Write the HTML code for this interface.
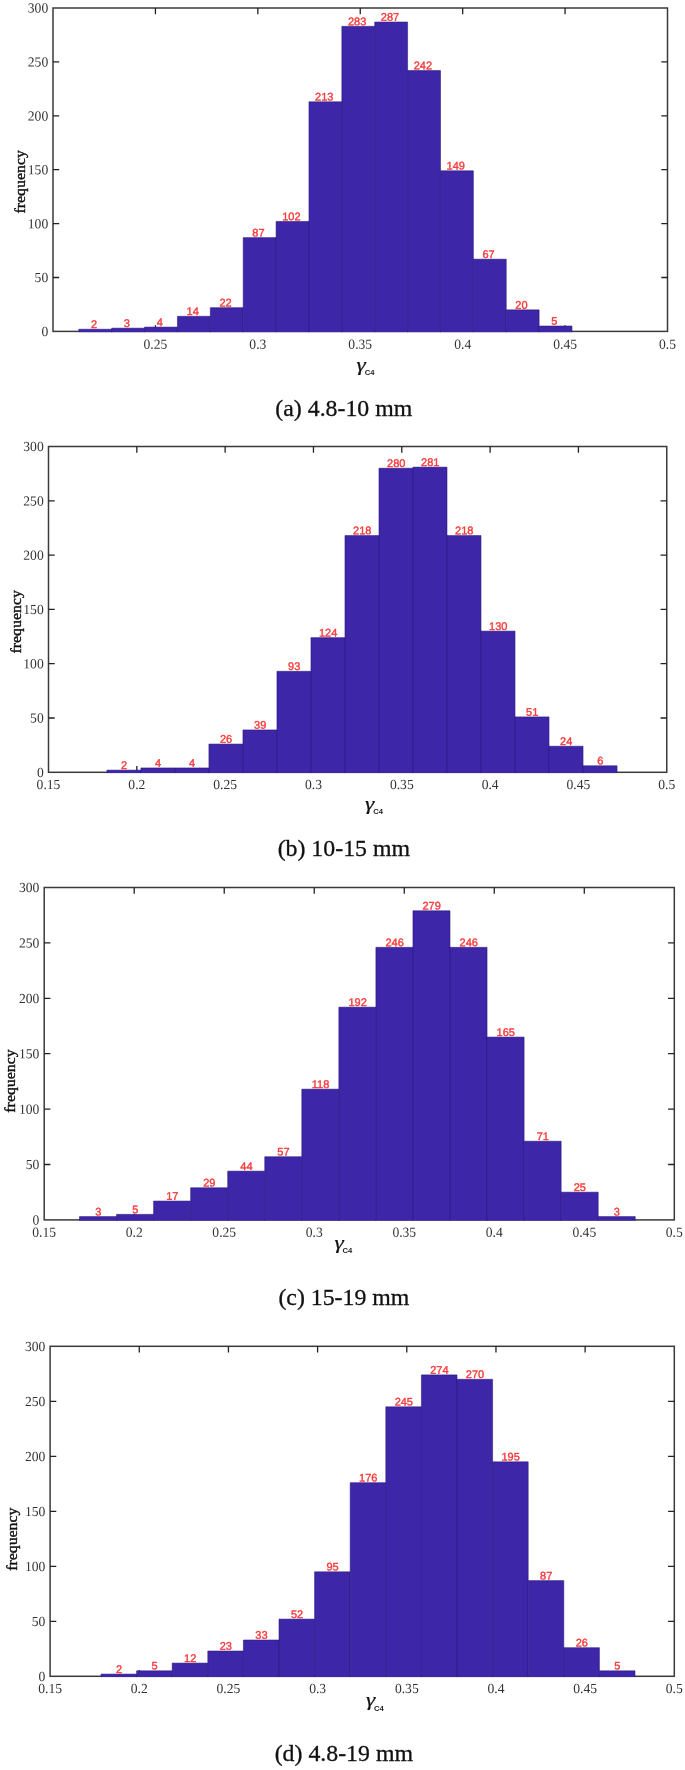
<!DOCTYPE html>
<html lang="en"><head><meta charset="utf-8"><title>Histograms</title>
<style>
html,body{margin:0;padding:0;background:#fff;}
body{width:685px;height:1770px;overflow:hidden;}
svg{display:block;filter:blur(0.35px);}
.tk{font-family:"Liberation Serif",serif;font-size:13.8px;fill:#333;}
.yl{font-family:"Liberation Serif",serif;font-size:15.1px;fill:#111;stroke:#111;stroke-width:0.4px;}
.cap{font-family:"Liberation Serif",serif;font-size:22.7px;fill:#111;stroke:#111;stroke-width:0.3px;}
.v{font-family:"Liberation Sans",sans-serif;font-size:11px;fill:#f83a3a;stroke:#f83a3a;stroke-width:0.4px;}
.g{font-family:"Liberation Serif",serif;font-style:italic;font-size:18px;fill:#111;stroke:#111;stroke-width:0.2px;}
.gs{font-family:"Liberation Sans",sans-serif;font-size:7.6px;font-weight:700;fill:#222;}
</style></head><body>
<svg width="685" height="1770" viewBox="0 0 685 1770">
<g><rect x="53.00" y="8.00" width="614.50" height="323.40" fill="none" stroke="#3a3a3a" stroke-width="1.5"/><path d="M155.42 331.40v-6.20M155.42 8.00v6.20M257.83 331.40v-6.20M257.83 8.00v6.20M360.25 331.40v-6.20M360.25 8.00v6.20M462.67 331.40v-6.20M462.67 8.00v6.20M565.08 331.40v-6.20M565.08 8.00v6.20M53.00 277.50h6.20M667.50 277.50h-6.20M53.00 223.60h6.20M667.50 223.60h-6.20M53.00 169.70h6.20M667.50 169.70h-6.20M53.00 115.80h6.20M667.50 115.80h-6.20M53.00 61.90h6.20M667.50 61.90h-6.20" stroke="#222" stroke-width="1.3" fill="none"/><rect x="78.80" y="329.24" width="32.88" height="2.91" fill="#3e26a8"/><path d="M78.80 332.15V329.24h32.88V332.15" fill="none" stroke="#28167a" stroke-width="0.55"/><rect x="111.68" y="328.17" width="32.88" height="3.98" fill="#3e26a8"/><path d="M111.68 332.15V328.17h32.88V332.15" fill="none" stroke="#28167a" stroke-width="0.55"/><rect x="144.56" y="327.09" width="32.88" height="5.06" fill="#3e26a8"/><path d="M144.56 332.15V327.09h32.88V332.15" fill="none" stroke="#28167a" stroke-width="0.55"/><rect x="177.44" y="316.31" width="32.88" height="15.84" fill="#3e26a8"/><path d="M177.44 332.15V316.31h32.88V332.15" fill="none" stroke="#28167a" stroke-width="0.55"/><rect x="210.32" y="307.68" width="32.88" height="24.47" fill="#3e26a8"/><path d="M210.32 332.15V307.68h32.88V332.15" fill="none" stroke="#28167a" stroke-width="0.55"/><rect x="243.20" y="237.61" width="32.88" height="94.54" fill="#3e26a8"/><path d="M243.20 332.15V237.61h32.88V332.15" fill="none" stroke="#28167a" stroke-width="0.55"/><rect x="276.08" y="221.44" width="32.88" height="110.71" fill="#3e26a8"/><path d="M276.08 332.15V221.44h32.88V332.15" fill="none" stroke="#28167a" stroke-width="0.55"/><rect x="308.96" y="101.79" width="32.88" height="230.36" fill="#3e26a8"/><path d="M308.96 332.15V101.79h32.88V332.15" fill="none" stroke="#28167a" stroke-width="0.55"/><rect x="341.84" y="26.33" width="32.88" height="305.82" fill="#3e26a8"/><path d="M341.84 332.15V26.33h32.88V332.15" fill="none" stroke="#28167a" stroke-width="0.55"/><rect x="374.72" y="22.01" width="32.88" height="310.14" fill="#3e26a8"/><path d="M374.72 332.15V22.01h32.88V332.15" fill="none" stroke="#28167a" stroke-width="0.55"/><rect x="407.60" y="70.52" width="32.88" height="261.63" fill="#3e26a8"/><path d="M407.60 332.15V70.52h32.88V332.15" fill="none" stroke="#28167a" stroke-width="0.55"/><rect x="440.48" y="170.78" width="32.88" height="161.37" fill="#3e26a8"/><path d="M440.48 332.15V170.78h32.88V332.15" fill="none" stroke="#28167a" stroke-width="0.55"/><rect x="473.36" y="259.17" width="32.88" height="72.98" fill="#3e26a8"/><path d="M473.36 332.15V259.17h32.88V332.15" fill="none" stroke="#28167a" stroke-width="0.55"/><rect x="506.24" y="309.84" width="32.88" height="22.31" fill="#3e26a8"/><path d="M506.24 332.15V309.84h32.88V332.15" fill="none" stroke="#28167a" stroke-width="0.55"/><rect x="539.12" y="326.01" width="32.88" height="6.14" fill="#3e26a8"/><path d="M539.12 332.15V326.01h32.88V332.15" fill="none" stroke="#28167a" stroke-width="0.55"/><text class="tk" text-anchor="end" transform="translate(48.20 336.00) rotate(0.03) scale(0.985 1)">0</text><text class="tk" text-anchor="end" transform="translate(48.20 282.10) rotate(0.03) scale(0.985 1)">50</text><text class="tk" text-anchor="end" transform="translate(48.20 228.20) rotate(0.03) scale(0.985 1)">100</text><text class="tk" text-anchor="end" transform="translate(48.20 174.30) rotate(0.03) scale(0.985 1)">150</text><text class="tk" text-anchor="end" transform="translate(48.20 120.40) rotate(0.03) scale(0.985 1)">200</text><text class="tk" text-anchor="end" transform="translate(48.20 66.50) rotate(0.03) scale(0.985 1)">250</text><text class="tk" text-anchor="end" transform="translate(48.20 12.60) rotate(0.03) scale(0.985 1)">300</text><text class="tk" text-anchor="middle" transform="translate(155.42 348.80) rotate(0.03) scale(0.985 1)">0.25</text><text class="tk" text-anchor="middle" transform="translate(257.83 348.80) rotate(0.03) scale(0.985 1)">0.3</text><text class="tk" text-anchor="middle" transform="translate(360.25 348.80) rotate(0.03) scale(0.985 1)">0.35</text><text class="tk" text-anchor="middle" transform="translate(462.67 348.80) rotate(0.03) scale(0.985 1)">0.4</text><text class="tk" text-anchor="middle" transform="translate(565.08 348.80) rotate(0.03) scale(0.985 1)">0.45</text><text class="tk" text-anchor="middle" transform="translate(667.50 348.80) rotate(0.03) scale(0.985 1)">0.5</text><text class="v" text-anchor="middle" transform="translate(94.04 328.04) rotate(0.03) scale(1.000 1)">2</text><text class="v" text-anchor="middle" transform="translate(126.92 326.97) rotate(0.03) scale(1.000 1)">3</text><text class="v" text-anchor="middle" transform="translate(159.80 325.89) rotate(0.03) scale(1.000 1)">4</text><text class="v" text-anchor="middle" transform="translate(192.68 315.11) rotate(0.03) scale(1.000 1)">14</text><text class="v" text-anchor="middle" transform="translate(225.56 306.48) rotate(0.03) scale(1.000 1)">22</text><text class="v" text-anchor="middle" transform="translate(258.44 236.41) rotate(0.03) scale(1.000 1)">87</text><text class="v" text-anchor="middle" transform="translate(291.32 220.24) rotate(0.03) scale(1.000 1)">102</text><text class="v" text-anchor="middle" transform="translate(324.20 100.59) rotate(0.03) scale(1.000 1)">213</text><text class="v" text-anchor="middle" transform="translate(357.08 25.13) rotate(0.03) scale(1.000 1)">283</text><text class="v" text-anchor="middle" transform="translate(389.96 20.81) rotate(0.03) scale(1.000 1)">287</text><text class="v" text-anchor="middle" transform="translate(422.84 69.32) rotate(0.03) scale(1.000 1)">242</text><text class="v" text-anchor="middle" transform="translate(455.72 169.58) rotate(0.03) scale(1.000 1)">149</text><text class="v" text-anchor="middle" transform="translate(488.60 257.97) rotate(0.03) scale(1.000 1)">67</text><text class="v" text-anchor="middle" transform="translate(521.48 308.64) rotate(0.03) scale(1.000 1)">20</text><text class="v" text-anchor="middle" transform="translate(554.36 324.81) rotate(0.03) scale(1.000 1)">5</text><text class="yl" text-anchor="middle" transform="translate(24.50 181.80) rotate(-90) scale(1.050 1)">frequency</text><text class="g" transform="translate(356.50 370.60) scale(1.300 1)">γ</text><text class="gs" transform="translate(364.70 374.90) scale(1.000 1)">C4</text><text class="cap" text-anchor="middle" transform="translate(343.80 416.40) scale(1.050 1)">(a) 4.8-10 mm</text></g>
<g><rect x="48.50" y="446.50" width="618.25" height="325.80" fill="none" stroke="#3a3a3a" stroke-width="1.5"/><path d="M136.82 772.30v-6.20M136.82 446.50v6.20M225.14 772.30v-6.20M225.14 446.50v6.20M313.46 772.30v-6.20M313.46 446.50v6.20M401.79 772.30v-6.20M401.79 446.50v6.20M490.11 772.30v-6.20M490.11 446.50v6.20M578.43 772.30v-6.20M578.43 446.50v6.20M48.50 718.00h6.20M666.75 718.00h-6.20M48.50 663.70h6.20M666.75 663.70h-6.20M48.50 609.40h6.20M666.75 609.40h-6.20M48.50 555.10h6.20M666.75 555.10h-6.20M48.50 500.80h6.20M666.75 500.80h-6.20" stroke="#222" stroke-width="1.3" fill="none"/><rect x="106.90" y="770.13" width="34.01" height="2.92" fill="#3e26a8"/><path d="M106.90 773.05V770.13h34.01V773.05" fill="none" stroke="#28167a" stroke-width="0.55"/><rect x="140.91" y="767.96" width="34.01" height="5.09" fill="#3e26a8"/><path d="M140.91 773.05V767.96h34.01V773.05" fill="none" stroke="#28167a" stroke-width="0.55"/><rect x="174.92" y="767.96" width="34.01" height="5.09" fill="#3e26a8"/><path d="M174.92 773.05V767.96h34.01V773.05" fill="none" stroke="#28167a" stroke-width="0.55"/><rect x="208.93" y="744.06" width="34.01" height="28.99" fill="#3e26a8"/><path d="M208.93 773.05V744.06h34.01V773.05" fill="none" stroke="#28167a" stroke-width="0.55"/><rect x="242.94" y="729.95" width="34.01" height="43.10" fill="#3e26a8"/><path d="M242.94 773.05V729.95h34.01V773.05" fill="none" stroke="#28167a" stroke-width="0.55"/><rect x="276.95" y="671.30" width="34.01" height="101.75" fill="#3e26a8"/><path d="M276.95 773.05V671.30h34.01V773.05" fill="none" stroke="#28167a" stroke-width="0.55"/><rect x="310.96" y="637.64" width="34.01" height="135.41" fill="#3e26a8"/><path d="M310.96 773.05V637.64h34.01V773.05" fill="none" stroke="#28167a" stroke-width="0.55"/><rect x="344.97" y="535.55" width="34.01" height="237.50" fill="#3e26a8"/><path d="M344.97 773.05V535.55h34.01V773.05" fill="none" stroke="#28167a" stroke-width="0.55"/><rect x="378.98" y="468.22" width="34.01" height="304.83" fill="#3e26a8"/><path d="M378.98 773.05V468.22h34.01V773.05" fill="none" stroke="#28167a" stroke-width="0.55"/><rect x="412.99" y="467.13" width="34.01" height="305.92" fill="#3e26a8"/><path d="M412.99 773.05V467.13h34.01V773.05" fill="none" stroke="#28167a" stroke-width="0.55"/><rect x="447.00" y="535.55" width="34.01" height="237.50" fill="#3e26a8"/><path d="M447.00 773.05V535.55h34.01V773.05" fill="none" stroke="#28167a" stroke-width="0.55"/><rect x="481.01" y="631.12" width="34.01" height="141.93" fill="#3e26a8"/><path d="M481.01 773.05V631.12h34.01V773.05" fill="none" stroke="#28167a" stroke-width="0.55"/><rect x="515.02" y="716.91" width="34.01" height="56.14" fill="#3e26a8"/><path d="M515.02 773.05V716.91h34.01V773.05" fill="none" stroke="#28167a" stroke-width="0.55"/><rect x="549.03" y="746.24" width="34.01" height="26.81" fill="#3e26a8"/><path d="M549.03 773.05V746.24h34.01V773.05" fill="none" stroke="#28167a" stroke-width="0.55"/><rect x="583.04" y="765.78" width="34.01" height="7.27" fill="#3e26a8"/><path d="M583.04 773.05V765.78h34.01V773.05" fill="none" stroke="#28167a" stroke-width="0.55"/><text class="tk" text-anchor="end" transform="translate(43.70 776.90) rotate(0.03) scale(0.985 1)">0</text><text class="tk" text-anchor="end" transform="translate(43.70 722.60) rotate(0.03) scale(0.985 1)">50</text><text class="tk" text-anchor="end" transform="translate(43.70 668.30) rotate(0.03) scale(0.985 1)">100</text><text class="tk" text-anchor="end" transform="translate(43.70 614.00) rotate(0.03) scale(0.985 1)">150</text><text class="tk" text-anchor="end" transform="translate(43.70 559.70) rotate(0.03) scale(0.985 1)">200</text><text class="tk" text-anchor="end" transform="translate(43.70 505.40) rotate(0.03) scale(0.985 1)">250</text><text class="tk" text-anchor="end" transform="translate(43.70 451.10) rotate(0.03) scale(0.985 1)">300</text><text class="tk" text-anchor="middle" transform="translate(48.50 789.10) rotate(0.03) scale(0.985 1)">0.15</text><text class="tk" text-anchor="middle" transform="translate(136.82 789.10) rotate(0.03) scale(0.985 1)">0.2</text><text class="tk" text-anchor="middle" transform="translate(225.14 789.10) rotate(0.03) scale(0.985 1)">0.25</text><text class="tk" text-anchor="middle" transform="translate(313.46 789.10) rotate(0.03) scale(0.985 1)">0.3</text><text class="tk" text-anchor="middle" transform="translate(401.79 789.10) rotate(0.03) scale(0.985 1)">0.35</text><text class="tk" text-anchor="middle" transform="translate(490.11 789.10) rotate(0.03) scale(0.985 1)">0.4</text><text class="tk" text-anchor="middle" transform="translate(578.43 789.10) rotate(0.03) scale(0.985 1)">0.45</text><text class="tk" text-anchor="middle" transform="translate(666.75 789.10) rotate(0.03) scale(0.985 1)">0.5</text><text class="v" text-anchor="middle" transform="translate(124.11 768.93) rotate(0.03) scale(1.000 1)">2</text><text class="v" text-anchor="middle" transform="translate(158.12 766.76) rotate(0.03) scale(1.000 1)">4</text><text class="v" text-anchor="middle" transform="translate(192.12 766.76) rotate(0.03) scale(1.000 1)">4</text><text class="v" text-anchor="middle" transform="translate(226.13 742.86) rotate(0.03) scale(1.000 1)">26</text><text class="v" text-anchor="middle" transform="translate(260.14 728.75) rotate(0.03) scale(1.000 1)">39</text><text class="v" text-anchor="middle" transform="translate(294.15 670.10) rotate(0.03) scale(1.000 1)">93</text><text class="v" text-anchor="middle" transform="translate(328.17 636.44) rotate(0.03) scale(1.000 1)">124</text><text class="v" text-anchor="middle" transform="translate(362.18 534.35) rotate(0.03) scale(1.000 1)">218</text><text class="v" text-anchor="middle" transform="translate(396.19 467.02) rotate(0.03) scale(1.000 1)">280</text><text class="v" text-anchor="middle" transform="translate(430.19 465.93) rotate(0.03) scale(1.000 1)">281</text><text class="v" text-anchor="middle" transform="translate(464.20 534.35) rotate(0.03) scale(1.000 1)">218</text><text class="v" text-anchor="middle" transform="translate(498.21 629.92) rotate(0.03) scale(1.000 1)">130</text><text class="v" text-anchor="middle" transform="translate(532.23 715.71) rotate(0.03) scale(1.000 1)">51</text><text class="v" text-anchor="middle" transform="translate(566.24 745.04) rotate(0.03) scale(1.000 1)">24</text><text class="v" text-anchor="middle" transform="translate(600.25 764.58) rotate(0.03) scale(1.000 1)">6</text><text class="yl" text-anchor="middle" transform="translate(20.90 621.80) rotate(-90) scale(1.050 1)">frequency</text><text class="g" transform="translate(365.00 809.60) scale(1.300 1)">γ</text><text class="gs" transform="translate(373.20 813.90) scale(1.000 1)">C4</text><text class="cap" text-anchor="middle" transform="translate(343.80 856.10) scale(1.050 1)">(b) 10-15 mm</text></g>
<g><rect x="44.20" y="887.50" width="630.10" height="332.40" fill="none" stroke="#3a3a3a" stroke-width="1.5"/><path d="M134.21 1219.90v-6.20M134.21 887.50v6.20M224.23 1219.90v-6.20M224.23 887.50v6.20M314.24 1219.90v-6.20M314.24 887.50v6.20M404.26 1219.90v-6.20M404.26 887.50v6.20M494.27 1219.90v-6.20M494.27 887.50v6.20M584.29 1219.90v-6.20M584.29 887.50v6.20M44.20 1164.50h6.20M674.30 1164.50h-6.20M44.20 1109.10h6.20M674.30 1109.10h-6.20M44.20 1053.70h6.20M674.30 1053.70h-6.20M44.20 998.30h6.20M674.30 998.30h-6.20M44.20 942.90h6.20M674.30 942.90h-6.20" stroke="#222" stroke-width="1.3" fill="none"/><rect x="79.50" y="1216.58" width="37.05" height="4.07" fill="#3e26a8"/><path d="M79.50 1220.65V1216.58h37.05V1220.65" fill="none" stroke="#28167a" stroke-width="0.55"/><rect x="116.55" y="1214.36" width="37.05" height="6.29" fill="#3e26a8"/><path d="M116.55 1220.65V1214.36h37.05V1220.65" fill="none" stroke="#28167a" stroke-width="0.55"/><rect x="153.60" y="1201.06" width="37.05" height="19.59" fill="#3e26a8"/><path d="M153.60 1220.65V1201.06h37.05V1220.65" fill="none" stroke="#28167a" stroke-width="0.55"/><rect x="190.65" y="1187.77" width="37.05" height="32.88" fill="#3e26a8"/><path d="M190.65 1220.65V1187.77h37.05V1220.65" fill="none" stroke="#28167a" stroke-width="0.55"/><rect x="227.70" y="1171.15" width="37.05" height="49.50" fill="#3e26a8"/><path d="M227.70 1220.65V1171.15h37.05V1220.65" fill="none" stroke="#28167a" stroke-width="0.55"/><rect x="264.75" y="1156.74" width="37.05" height="63.91" fill="#3e26a8"/><path d="M264.75 1220.65V1156.74h37.05V1220.65" fill="none" stroke="#28167a" stroke-width="0.55"/><rect x="301.80" y="1089.16" width="37.05" height="131.49" fill="#3e26a8"/><path d="M301.80 1220.65V1089.16h37.05V1220.65" fill="none" stroke="#28167a" stroke-width="0.55"/><rect x="338.85" y="1007.16" width="37.05" height="213.49" fill="#3e26a8"/><path d="M338.85 1220.65V1007.16h37.05V1220.65" fill="none" stroke="#28167a" stroke-width="0.55"/><rect x="375.90" y="947.33" width="37.05" height="273.32" fill="#3e26a8"/><path d="M375.90 1220.65V947.33h37.05V1220.65" fill="none" stroke="#28167a" stroke-width="0.55"/><rect x="412.95" y="910.77" width="37.05" height="309.88" fill="#3e26a8"/><path d="M412.95 1220.65V910.77h37.05V1220.65" fill="none" stroke="#28167a" stroke-width="0.55"/><rect x="450.00" y="947.33" width="37.05" height="273.32" fill="#3e26a8"/><path d="M450.00 1220.65V947.33h37.05V1220.65" fill="none" stroke="#28167a" stroke-width="0.55"/><rect x="487.05" y="1037.08" width="37.05" height="183.57" fill="#3e26a8"/><path d="M487.05 1220.65V1037.08h37.05V1220.65" fill="none" stroke="#28167a" stroke-width="0.55"/><rect x="524.10" y="1141.23" width="37.05" height="79.42" fill="#3e26a8"/><path d="M524.10 1220.65V1141.23h37.05V1220.65" fill="none" stroke="#28167a" stroke-width="0.55"/><rect x="561.15" y="1192.20" width="37.05" height="28.45" fill="#3e26a8"/><path d="M561.15 1220.65V1192.20h37.05V1220.65" fill="none" stroke="#28167a" stroke-width="0.55"/><rect x="598.20" y="1216.58" width="37.05" height="4.07" fill="#3e26a8"/><path d="M598.20 1220.65V1216.58h37.05V1220.65" fill="none" stroke="#28167a" stroke-width="0.55"/><text class="tk" text-anchor="end" transform="translate(39.40 1224.50) rotate(0.03) scale(0.985 1)">0</text><text class="tk" text-anchor="end" transform="translate(39.40 1169.10) rotate(0.03) scale(0.985 1)">50</text><text class="tk" text-anchor="end" transform="translate(39.40 1113.70) rotate(0.03) scale(0.985 1)">100</text><text class="tk" text-anchor="end" transform="translate(39.40 1058.30) rotate(0.03) scale(0.985 1)">150</text><text class="tk" text-anchor="end" transform="translate(39.40 1002.90) rotate(0.03) scale(0.985 1)">200</text><text class="tk" text-anchor="end" transform="translate(39.40 947.50) rotate(0.03) scale(0.985 1)">250</text><text class="tk" text-anchor="end" transform="translate(39.40 892.10) rotate(0.03) scale(0.985 1)">300</text><text class="tk" text-anchor="middle" transform="translate(44.20 1236.70) rotate(0.03) scale(0.985 1)">0.15</text><text class="tk" text-anchor="middle" transform="translate(134.21 1236.70) rotate(0.03) scale(0.985 1)">0.2</text><text class="tk" text-anchor="middle" transform="translate(224.23 1236.70) rotate(0.03) scale(0.985 1)">0.25</text><text class="tk" text-anchor="middle" transform="translate(314.24 1236.70) rotate(0.03) scale(0.985 1)">0.3</text><text class="tk" text-anchor="middle" transform="translate(404.26 1236.70) rotate(0.03) scale(0.985 1)">0.35</text><text class="tk" text-anchor="middle" transform="translate(494.27 1236.70) rotate(0.03) scale(0.985 1)">0.4</text><text class="tk" text-anchor="middle" transform="translate(584.29 1236.70) rotate(0.03) scale(0.985 1)">0.45</text><text class="tk" text-anchor="middle" transform="translate(674.30 1236.70) rotate(0.03) scale(0.985 1)">0.5</text><text class="v" text-anchor="middle" transform="translate(98.23 1215.38) rotate(0.03) scale(1.000 1)">3</text><text class="v" text-anchor="middle" transform="translate(135.27 1213.16) rotate(0.03) scale(1.000 1)">5</text><text class="v" text-anchor="middle" transform="translate(172.32 1199.86) rotate(0.03) scale(1.000 1)">17</text><text class="v" text-anchor="middle" transform="translate(209.37 1186.57) rotate(0.03) scale(1.000 1)">29</text><text class="v" text-anchor="middle" transform="translate(246.42 1169.95) rotate(0.03) scale(1.000 1)">44</text><text class="v" text-anchor="middle" transform="translate(283.47 1155.54) rotate(0.03) scale(1.000 1)">57</text><text class="v" text-anchor="middle" transform="translate(320.52 1087.96) rotate(0.03) scale(1.000 1)">118</text><text class="v" text-anchor="middle" transform="translate(357.57 1005.96) rotate(0.03) scale(1.000 1)">192</text><text class="v" text-anchor="middle" transform="translate(394.62 946.13) rotate(0.03) scale(1.000 1)">246</text><text class="v" text-anchor="middle" transform="translate(431.67 909.57) rotate(0.03) scale(1.000 1)">279</text><text class="v" text-anchor="middle" transform="translate(468.72 946.13) rotate(0.03) scale(1.000 1)">246</text><text class="v" text-anchor="middle" transform="translate(505.77 1035.88) rotate(0.03) scale(1.000 1)">165</text><text class="v" text-anchor="middle" transform="translate(542.83 1140.03) rotate(0.03) scale(1.000 1)">71</text><text class="v" text-anchor="middle" transform="translate(579.88 1191.00) rotate(0.03) scale(1.000 1)">25</text><text class="v" text-anchor="middle" transform="translate(616.92 1215.38) rotate(0.03) scale(1.000 1)">3</text><text class="yl" text-anchor="middle" transform="translate(15.30 1081.00) rotate(-90) scale(1.050 1)">frequency</text><text class="g" transform="translate(334.40 1248.50) scale(1.300 1)">γ</text><text class="gs" transform="translate(342.60 1252.80) scale(1.000 1)">C4</text><text class="cap" text-anchor="middle" transform="translate(343.90 1305.30) scale(1.050 1)">(c) 15-19 mm</text></g>
<g><rect x="50.10" y="1346.30" width="624.20" height="330.00" fill="none" stroke="#3a3a3a" stroke-width="1.5"/><path d="M139.27 1676.30v-6.20M139.27 1346.30v6.20M228.44 1676.30v-6.20M228.44 1346.30v6.20M317.61 1676.30v-6.20M317.61 1346.30v6.20M406.79 1676.30v-6.20M406.79 1346.30v6.20M495.96 1676.30v-6.20M495.96 1346.30v6.20M585.13 1676.30v-6.20M585.13 1346.30v6.20M50.10 1621.30h6.20M674.30 1621.30h-6.20M50.10 1566.30h6.20M674.30 1566.30h-6.20M50.10 1511.30h6.20M674.30 1511.30h-6.20M50.10 1456.30h6.20M674.30 1456.30h-6.20M50.10 1401.30h6.20M674.30 1401.30h-6.20" stroke="#222" stroke-width="1.3" fill="none"/><rect x="101.00" y="1674.10" width="35.60" height="2.95" fill="#3e26a8"/><path d="M101.00 1677.05V1674.10h35.60V1677.05" fill="none" stroke="#28167a" stroke-width="0.55"/><rect x="136.60" y="1670.80" width="35.60" height="6.25" fill="#3e26a8"/><path d="M136.60 1677.05V1670.80h35.60V1677.05" fill="none" stroke="#28167a" stroke-width="0.55"/><rect x="172.20" y="1663.10" width="35.60" height="13.95" fill="#3e26a8"/><path d="M172.20 1677.05V1663.10h35.60V1677.05" fill="none" stroke="#28167a" stroke-width="0.55"/><rect x="207.80" y="1651.00" width="35.60" height="26.05" fill="#3e26a8"/><path d="M207.80 1677.05V1651.00h35.60V1677.05" fill="none" stroke="#28167a" stroke-width="0.55"/><rect x="243.40" y="1640.00" width="35.60" height="37.05" fill="#3e26a8"/><path d="M243.40 1677.05V1640.00h35.60V1677.05" fill="none" stroke="#28167a" stroke-width="0.55"/><rect x="279.00" y="1619.10" width="35.60" height="57.95" fill="#3e26a8"/><path d="M279.00 1677.05V1619.10h35.60V1677.05" fill="none" stroke="#28167a" stroke-width="0.55"/><rect x="314.60" y="1571.80" width="35.60" height="105.25" fill="#3e26a8"/><path d="M314.60 1677.05V1571.80h35.60V1677.05" fill="none" stroke="#28167a" stroke-width="0.55"/><rect x="350.20" y="1482.70" width="35.60" height="194.35" fill="#3e26a8"/><path d="M350.20 1677.05V1482.70h35.60V1677.05" fill="none" stroke="#28167a" stroke-width="0.55"/><rect x="385.80" y="1406.80" width="35.60" height="270.25" fill="#3e26a8"/><path d="M385.80 1677.05V1406.80h35.60V1677.05" fill="none" stroke="#28167a" stroke-width="0.55"/><rect x="421.40" y="1374.90" width="35.60" height="302.15" fill="#3e26a8"/><path d="M421.40 1677.05V1374.90h35.60V1677.05" fill="none" stroke="#28167a" stroke-width="0.55"/><rect x="457.00" y="1379.30" width="35.60" height="297.75" fill="#3e26a8"/><path d="M457.00 1677.05V1379.30h35.60V1677.05" fill="none" stroke="#28167a" stroke-width="0.55"/><rect x="492.60" y="1461.80" width="35.60" height="215.25" fill="#3e26a8"/><path d="M492.60 1677.05V1461.80h35.60V1677.05" fill="none" stroke="#28167a" stroke-width="0.55"/><rect x="528.20" y="1580.60" width="35.60" height="96.45" fill="#3e26a8"/><path d="M528.20 1677.05V1580.60h35.60V1677.05" fill="none" stroke="#28167a" stroke-width="0.55"/><rect x="563.80" y="1647.70" width="35.60" height="29.35" fill="#3e26a8"/><path d="M563.80 1677.05V1647.70h35.60V1677.05" fill="none" stroke="#28167a" stroke-width="0.55"/><rect x="599.40" y="1670.80" width="35.60" height="6.25" fill="#3e26a8"/><path d="M599.40 1677.05V1670.80h35.60V1677.05" fill="none" stroke="#28167a" stroke-width="0.55"/><text class="tk" text-anchor="end" transform="translate(45.30 1680.90) rotate(0.03) scale(0.985 1)">0</text><text class="tk" text-anchor="end" transform="translate(45.30 1625.90) rotate(0.03) scale(0.985 1)">50</text><text class="tk" text-anchor="end" transform="translate(45.30 1570.90) rotate(0.03) scale(0.985 1)">100</text><text class="tk" text-anchor="end" transform="translate(45.30 1515.90) rotate(0.03) scale(0.985 1)">150</text><text class="tk" text-anchor="end" transform="translate(45.30 1460.90) rotate(0.03) scale(0.985 1)">200</text><text class="tk" text-anchor="end" transform="translate(45.30 1405.90) rotate(0.03) scale(0.985 1)">250</text><text class="tk" text-anchor="end" transform="translate(45.30 1350.90) rotate(0.03) scale(0.985 1)">300</text><text class="tk" text-anchor="middle" transform="translate(50.10 1693.10) rotate(0.03) scale(0.985 1)">0.15</text><text class="tk" text-anchor="middle" transform="translate(139.27 1693.10) rotate(0.03) scale(0.985 1)">0.2</text><text class="tk" text-anchor="middle" transform="translate(228.44 1693.10) rotate(0.03) scale(0.985 1)">0.25</text><text class="tk" text-anchor="middle" transform="translate(317.61 1693.10) rotate(0.03) scale(0.985 1)">0.3</text><text class="tk" text-anchor="middle" transform="translate(406.79 1693.10) rotate(0.03) scale(0.985 1)">0.35</text><text class="tk" text-anchor="middle" transform="translate(495.96 1693.10) rotate(0.03) scale(0.985 1)">0.4</text><text class="tk" text-anchor="middle" transform="translate(585.13 1693.10) rotate(0.03) scale(0.985 1)">0.45</text><text class="tk" text-anchor="middle" transform="translate(674.30 1693.10) rotate(0.03) scale(0.985 1)">0.5</text><text class="v" text-anchor="middle" transform="translate(119.00 1672.90) rotate(0.03) scale(1.000 1)">2</text><text class="v" text-anchor="middle" transform="translate(154.60 1669.60) rotate(0.03) scale(1.000 1)">5</text><text class="v" text-anchor="middle" transform="translate(190.20 1661.90) rotate(0.03) scale(1.000 1)">12</text><text class="v" text-anchor="middle" transform="translate(225.80 1649.80) rotate(0.03) scale(1.000 1)">23</text><text class="v" text-anchor="middle" transform="translate(261.40 1638.80) rotate(0.03) scale(1.000 1)">33</text><text class="v" text-anchor="middle" transform="translate(297.00 1617.90) rotate(0.03) scale(1.000 1)">52</text><text class="v" text-anchor="middle" transform="translate(332.60 1570.60) rotate(0.03) scale(1.000 1)">95</text><text class="v" text-anchor="middle" transform="translate(368.20 1481.50) rotate(0.03) scale(1.000 1)">176</text><text class="v" text-anchor="middle" transform="translate(403.80 1405.60) rotate(0.03) scale(1.000 1)">245</text><text class="v" text-anchor="middle" transform="translate(439.40 1373.70) rotate(0.03) scale(1.000 1)">274</text><text class="v" text-anchor="middle" transform="translate(475.00 1378.10) rotate(0.03) scale(1.000 1)">270</text><text class="v" text-anchor="middle" transform="translate(510.60 1460.60) rotate(0.03) scale(1.000 1)">195</text><text class="v" text-anchor="middle" transform="translate(546.20 1579.40) rotate(0.03) scale(1.000 1)">87</text><text class="v" text-anchor="middle" transform="translate(581.80 1646.50) rotate(0.03) scale(1.000 1)">26</text><text class="v" text-anchor="middle" transform="translate(617.40 1669.60) rotate(0.03) scale(1.000 1)">5</text><text class="yl" text-anchor="middle" transform="translate(16.60 1539.20) rotate(-90) scale(1.050 1)">frequency</text><text class="g" transform="translate(365.90 1706.30) scale(1.300 1)">γ</text><text class="gs" transform="translate(374.10 1710.60) scale(1.000 1)">C4</text><text class="cap" text-anchor="middle" transform="translate(343.80 1761.10) scale(1.050 1)">(d) 4.8-19 mm</text></g>
</svg></body></html>
